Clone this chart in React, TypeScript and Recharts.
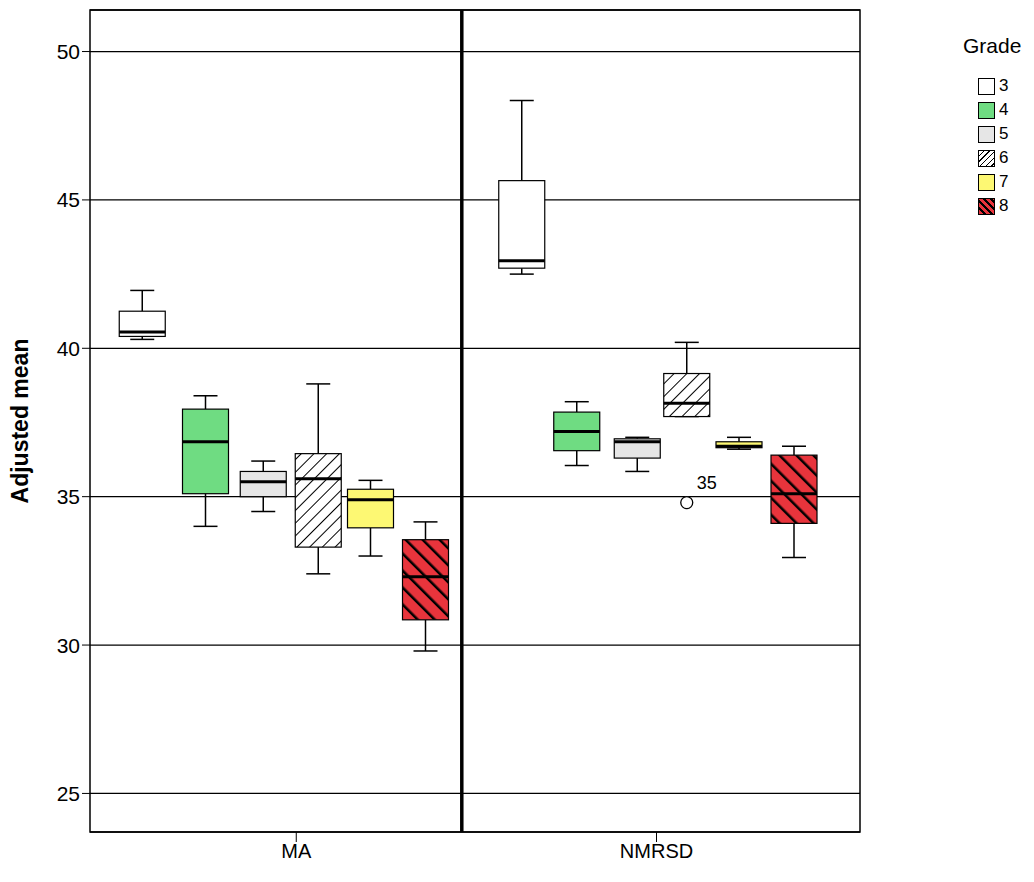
import { ComposedChart, Scatter, XAxis, YAxis, CartesianGrid, ReferenceLine, ReferenceArea } from "recharts"

// x positions (in slot units), grades and five-number summaries
const grades = ["3", "4", "5", "6", "7", "8"]
const maX = [0.95, 2.1, 3.15, 4.15, 5.1, 6.1]
const nmX = [7.85, 8.85, 9.95, 10.85, 11.8, 12.8]
const maStats = [
  [40.3, 40.4, 40.55, 41.25, 41.95],
  [34.0, 35.1, 36.85, 37.95, 38.4],
  [34.5, 35.0, 35.5, 35.85, 36.2],
  [32.4, 33.3, 35.6, 36.45, 38.8],
  [33.0, 33.95, 34.9, 35.25, 35.55],
  [29.8, 30.85, 32.3, 33.55, 34.15],
]
const nmStats = [
  [42.5, 42.7, 42.95, 45.65, 48.35],
  [36.05, 36.55, 37.2, 37.85, 38.2],
  [35.85, 36.3, 36.85, 36.95, 37.0],
  [37.7, 37.7, 38.15, 39.15, 40.2],
  [36.6, 36.65, 36.7, 36.85, 37.0],
  [32.95, 34.1, 35.1, 36.4, 36.7],
]
const outliers = [{ x: 10.85, y: 34.8, label: "35" }]
const yTicks = [25, 30, 35, 40, 45, 50]
const fills = ["#ffffff", "#6fdc82", "#e6e6e6", "url(#hatch6)", "#fdf873", "url(#hatch8)"]
const legendFills = ["#ffffff", "#6fdc82", "#e6e6e6", "repeating-linear-gradient(135deg,#fff 0 3px,#000 3px 4px)", "#fdf873", "repeating-linear-gradient(45deg,#e8343c 0 3px,#000 3px 5px)"]

const Y_MIN = 23.7
const Y_MAX = 51.4
const PLOT_H = 822
const pxPerUnit = PLOT_H / (Y_MAX - Y_MIN)
const HALF = 23

const boxes = [
  ...maStats.map((s, i) => ({ x: maX[i], y: s[4], s, g: i })),
  ...nmStats.map((s, i) => ({ x: nmX[i], y: s[4], s, g: i })),
]

function BoxShape(props: any) {
  const { cx, cy, payload } = props
  const [mn, q1, md, q3, mx] = payload.s
  const py = (v: number) => cy + (mx - v) * pxPerUnit
  return (
    <g stroke="#000" strokeWidth={1.5}>
      <line x1={cx} x2={cx} y1={py(mx)} y2={py(q3)} />
      <line x1={cx} x2={cx} y1={py(q1)} y2={py(mn)} />
      <line x1={cx - 12} x2={cx + 12} y1={py(mx)} y2={py(mx)} />
      <line x1={cx - 12} x2={cx + 12} y1={py(mn)} y2={py(mn)} />
      <rect x={cx - HALF} y={py(q3)} width={HALF * 2} height={py(q1) - py(q3)} fill={fills[payload.g]} strokeWidth={1.2} />
      <line x1={cx - HALF} x2={cx + HALF} y1={py(md)} y2={py(md)} strokeWidth={3} />
    </g>
  )
}

function OutlierShape(props: any) {
  const { cx, cy, payload } = props
  return (
    <g>
      <circle cx={cx} cy={cy} r={6} fill="#fff" stroke="#000" strokeWidth={1.3} />
      <text x={cx + 10} y={cy - 14} fontSize={18} fontFamily="Liberation Sans, Arial">{payload.label}</text>
    </g>
  )
}

export default function App() {
  return (
    <div style={{ position: "relative", width: 1018, height: 866, fontFamily: "Liberation Sans, Arial" }}>
      <ComposedChart width={1018} height={858} margin={{ top: 2, right: 166, bottom: 4, left: 22 }}>
        <defs>
          <pattern id="hatch6" patternUnits="userSpaceOnUse" width={9} height={9} patternTransform="rotate(45)">
            <rect width={9} height={9} fill="#fff" />
            <line x1={0} y1={0} x2={0} y2={9} stroke="#000" strokeWidth={2} />
          </pattern>
          <pattern id="hatch8" patternUnits="userSpaceOnUse" width={12} height={12} patternTransform="rotate(-45)">
            <rect width={12} height={12} fill="#e8343c" />
            <line x1={0} y1={0} x2={0} y2={12} stroke="#000" strokeWidth={5} />
          </pattern>
        </defs>
        <CartesianGrid vertical={false} stroke="#000" strokeWidth={1.3} />
        <XAxis type="number" dataKey="x" domain={[0, 14]} ticks={[3.75, 10.3]} tickFormatter={(v) => (v < 7 ? "MA" : "NMRSD")}
          axisLine={false} tick={{ fill: "#000", fontSize: 20 }} tickSize={10} tickLine={{ stroke: "#000" }} height={30} />
        <YAxis type="number" domain={[Y_MIN, Y_MAX]} ticks={yTicks} axisLine={false} tick={{ fill: "#000", fontSize: 21 }}
          tickLine={{ stroke: "#000" }} tickSize={8} width={60} allowDataOverflow
          label={{ value: "Adjusted mean", angle: -90, position: "insideLeft", offset: -10, dy: 0, style: { fontWeight: "bold", fontSize: 23, fill: "#000", textAnchor: "middle" } }} />
        <ReferenceArea x1={0} x2={14} y1={Y_MIN} y2={Y_MAX} fill="none" stroke="#000" strokeWidth={1.5} ifOverflow="visible" />
        <ReferenceLine x={6.76} stroke="#000" strokeWidth={3.5} />
        <Scatter data={boxes} dataKey="y" shape={<BoxShape />} isAnimationActive={false} />
        <Scatter data={outliers} dataKey="y" shape={<OutlierShape />} isAnimationActive={false} />
      </ComposedChart>
      <div style={{ position: "absolute", left: 955, top: 26, fontSize: 21 }}>Grade</div>
      {grades.map((g, i) => (
        <div key={g} style={{ position: "absolute", left: 970, top: 68 + i * 24, display: "flex", alignItems: "center", fontSize: 17 }}>
          <span style={{ width: 15, height: 15, border: "1.5px solid #000", background: legendFills[i], marginRight: 4, display: "inline-block" }} />
          {g}
        </div>
      ))}
    </div>
  )
}
